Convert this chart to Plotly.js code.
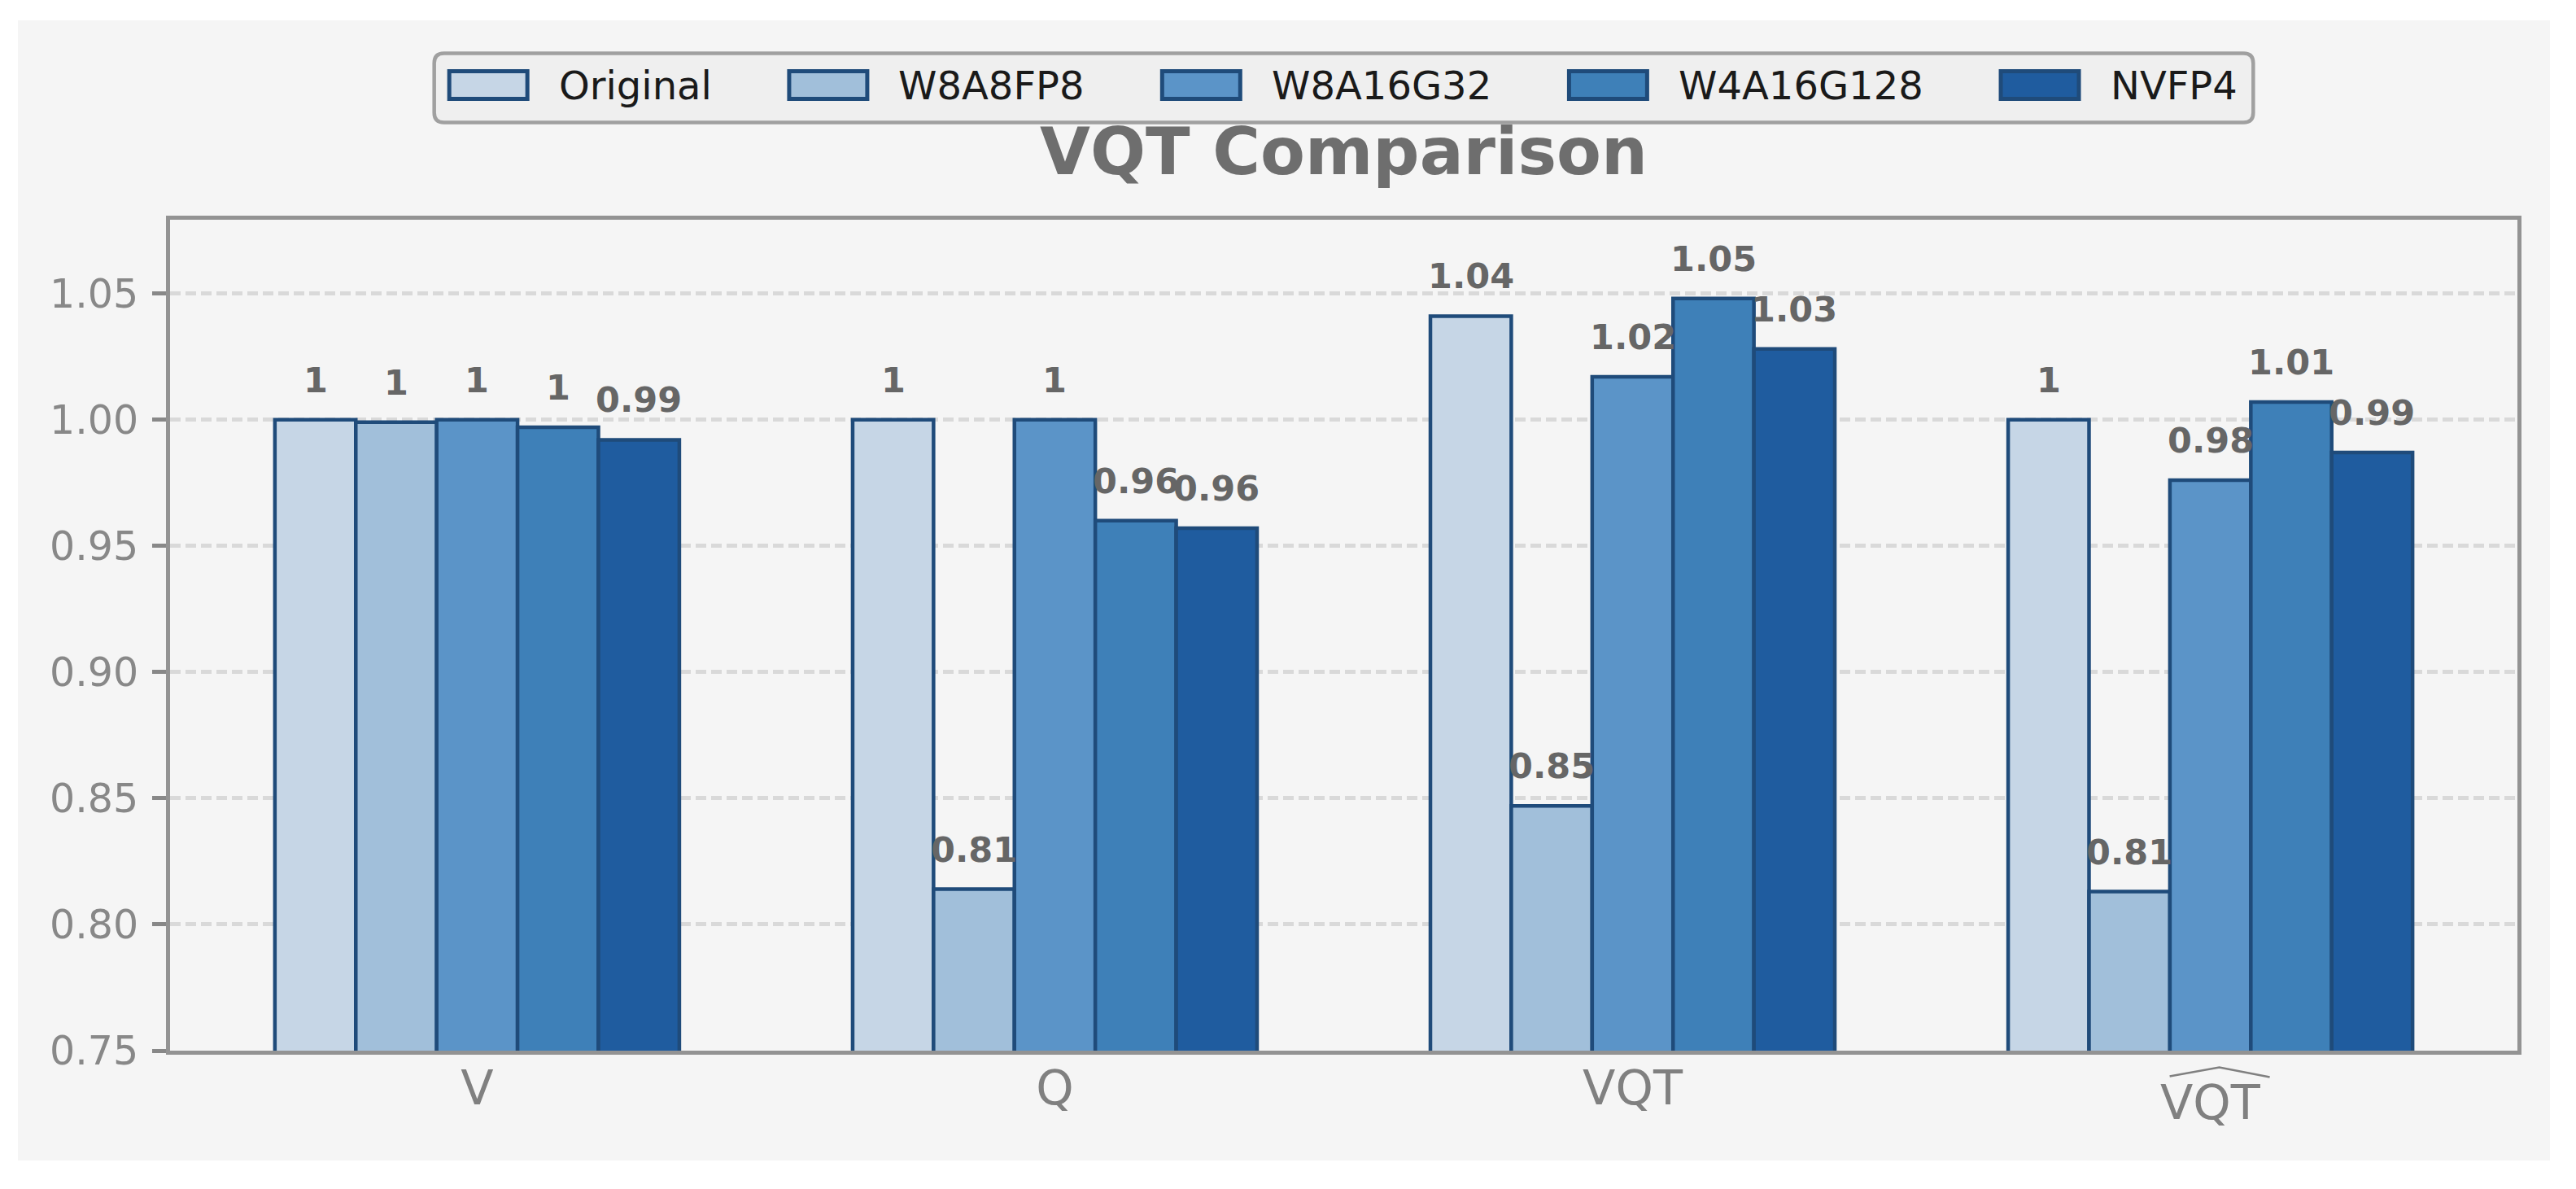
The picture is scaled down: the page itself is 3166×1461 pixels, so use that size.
<!DOCTYPE html>
<html>
<head>
<meta charset="utf-8">
<script src="https://cdn.plot.ly/plotly-3.0.1.min.js"></script>
<style>
  body { margin: 0; background: #ffffff; }
  #chart { position: absolute; left: 22px; top: 25px; width: 3112px; height: 1401px; }
</style>
</head>
<body>
<div id="chart"></div>
<script>
const categories = ["V", "Q", "VQT", "VQT_hat"];
const tickLabels = ["V", "Q", "VQT", "VQT"];
const seriesNames = ["Original", "W8A8FP8", "W8A16G32", "W4A16G128", "NVFP4"];
const original = [1.000, 1.000, 1.041, 1.000];
const w8a8fp8 = [0.999, 0.814, 0.847, 0.813];
const w8a16g32 = [1.000, 1.000, 1.017, 0.976];
const w4a16g128 = [0.997, 0.960, 1.048, 1.007];
const nvfp4 = [0.992, 0.957, 1.028, 0.987];
const seriesColors = ["#c6d6e6", "#a1bfda", "#5b94c8", "#3e80b8", "#1f5c9f"];
const seriesValues = [original, w8a8fp8, w8a16g32, w4a16g128, nvfp4];

const W = 3112;
const H = 1401;
const spine = 5;
// frame = where the spines are centred, plotly draws axis lines just outside the plot area
const frame = {l: 184.5, r: 37, t: 242.5, b: 132};
const margin = {
  l: frame.l + spine / 2,
  r: frame.r + spine / 2,
  t: frame.t + spine / 2,
  b: frame.b + spine / 2,
  pad: 0
};
const plotW = W - margin.l - margin.r;
const plotH = H - margin.t - margin.b;
const frameX = [-0.535, 3.535];
const frameY = [0.75, 1.08];
const ux = (frameX[1] - frameX[0]) / (W - frame.l - frame.r) * spine / 2;
const uy = (frameY[1] - frameY[0]) / (H - frame.t - frame.b) * spine / 2;
const xRange = [frameX[0] + ux, frameX[1] - ux];
const yRange = [frameY[0], frameY[1] - uy]; // keep 0.75 on the axis so its tick shows
const barGap = 0.3;
const edgeColor = "#1f4b7a";
const family = "DejaVu Sans";

// pixel position inside the figure div -> paper coordinates
function px(x)
{
  return (x - margin.l) / plotW;
}

function py(y)
{
  return 1 - (y - margin.t) / plotH;
}

function catPaper(i)
{
  return (i - xRange[0]) / (xRange[1] - xRange[0]);
}

function label(v)
{
  return String(parseFloat(v.toFixed(2)));
}

function textWidth(text, size)
{
  const ctx = document.createElement("canvas").getContext("2d");
  ctx.font = `${size}px "${family}"`;
  return ctx.measureText(text).width;
}

function roundedBox(x0, y0, x1, y1, r)
{
  const p = (x, y) => `${px(x)},${py(y)}`;
  return `M${p(x0 + r, y0)} L${p(x1 - r, y0)} Q${p(x1, y0)} ${p(x1, y0 + r)}` +
    ` L${p(x1, y1 - r)} Q${p(x1, y1)} ${p(x1 - r, y1)}` +
    ` L${p(x0 + r, y1)} Q${p(x0, y1)} ${p(x0, y1 - r)}` +
    ` L${p(x0, y0 + r)} Q${p(x0, y0)} ${p(x0 + r, y0)} Z`;
}

const traces = seriesNames.map((name, j) => ({
  type: "bar",
  name,
  x: categories,
  y: seriesValues[j],
  marker: {color: seriesColors[j], line: {color: edgeColor, width: 4.5}},
  showlegend: false,
  hoverinfo: "skip"
}));

const shapes = [];
const annotations = [];

// value labels above every bar
const barW = (1 - barGap) / seriesNames.length;
seriesValues.forEach((values, j) => {
  values.forEach((v, i) => {
    annotations.push({
      x: i + (j - (seriesNames.length - 1) / 2) * barW,
      y: v,
      xref: "x",
      yref: "y",
      text: label(v),
      showarrow: false,
      yanchor: "bottom",
      yshift: 22,
      font: {family, size: 43, weight: "bold", color: "#666666"}
    });
  });
});

// legend drawn by hand, matplotlib style swatches
const legendFont = 48;
const swatch = 101;
const textGap = 34;
const itemGap = 95;
const widths = seriesNames.map(n => textWidth(n, legendFont));
const boxW = 16 + widths.reduce((s, w) => s + swatch + textGap + w, 0) + itemGap * (seriesNames.length - 1) + 22;
const boxLeft = frame.l + (W - frame.l - frame.r) / 2 - boxW / 2;
shapes.push({
  type: "path",
  xref: "paper",
  yref: "paper",
  path: roundedBox(boxLeft, 40.5, boxLeft + boxW, 125.5, 12),
  fillcolor: "#efefef",
  line: {color: "#a0a0a0", width: 4.5}
});
let cursor = boxLeft + 16;
seriesNames.forEach((name, j) => {
  shapes.push({
    type: "rect",
    xref: "paper",
    yref: "paper",
    x0: px(cursor + 2.5),
    x1: px(cursor + swatch - 2.5),
    y0: py(62.5),
    y1: py(96.5),
    fillcolor: seriesColors[j],
    line: {color: edgeColor, width: 5}
  });
  annotations.push({
    x: px(cursor + swatch + textGap),
    y: py(80),
    xref: "paper",
    yref: "paper",
    xanchor: "left",
    yanchor: "middle",
    text: name,
    showarrow: false,
    font: {family, size: legendFont, color: "#1a1a1a"}
  });
  cursor += swatch + textGap + widths[j] + itemGap;
});

// last category label sits lower and wears a wide hat
const axisBottom = H - frame.b;
annotations.push({
  x: 3,
  y: py(axisBottom),
  xref: "x",
  yref: "paper",
  yanchor: "top",
  yshift: -25,
  text: tickLabels[3],
  showarrow: false,
  font: {family, size: 59, color: "#808080"}
});
const hat = [[-50, 29], [11, 18], [73, 30]];
shapes.push({
  type: "path",
  xref: "paper",
  yref: "paper",
  path: "M" + hat.map(([dx, dy]) => `${catPaper(3) + dx / plotW},${py(axisBottom + dy)}`).join(" L"),
  line: {color: "#808080", width: 2.5}
});

const layout = {
  width: W,
  height: H,
  margin,
  paper_bgcolor: "#f5f5f5",
  plot_bgcolor: "#f5f5f5",
  font: {family},
  barmode: "group",
  bargap: barGap,
  bargroupgap: 0,
  showlegend: false,
  title: {
    text: "VQT Comparison",
    font: {family, size: 80, weight: "bold", color: "#6e6e6e"},
    x: 0.5,
    xref: "paper",
    xanchor: "center",
    y: 1 - 161 / H,
    yref: "container",
    yanchor: "middle"
  },
  xaxis: {
    type: "category",
    categoryorder: "array",
    categoryarray: categories,
    tickmode: "array",
    tickvals: categories,
    ticktext: tickLabels.map((t, i) => i === 3 ? "" : t),
    range: xRange,
    showline: true,
    linecolor: "#939393",
    linewidth: spine,
    mirror: true,
    ticks: "",
    ticklabelstandoff: -10,
    showgrid: false,
    tickfont: {family, size: 59, color: "#808080"}
  },
  yaxis: {
    range: yRange,
    tick0: 0.75,
    dtick: 0.05,
    tickformat: ".2f",
    showline: true,
    linecolor: "#939393",
    linewidth: spine,
    mirror: true,
    ticks: "outside",
    ticklen: 17,
    tickwidth: 5,
    tickcolor: "#888888",
    ticklabelstandoff: 7,
    tickfont: {family, size: 49, color: "#888888"},
    showgrid: true,
    gridcolor: "#d9d9d9",
    gridwidth: 5,
    griddash: "13px,6px",
    zeroline: false
  },
  shapes,
  annotations
};

Plotly.newPlot("chart", traces, layout, {displayModeBar: false, staticPlot: true});
</script>
</body>
</html>
